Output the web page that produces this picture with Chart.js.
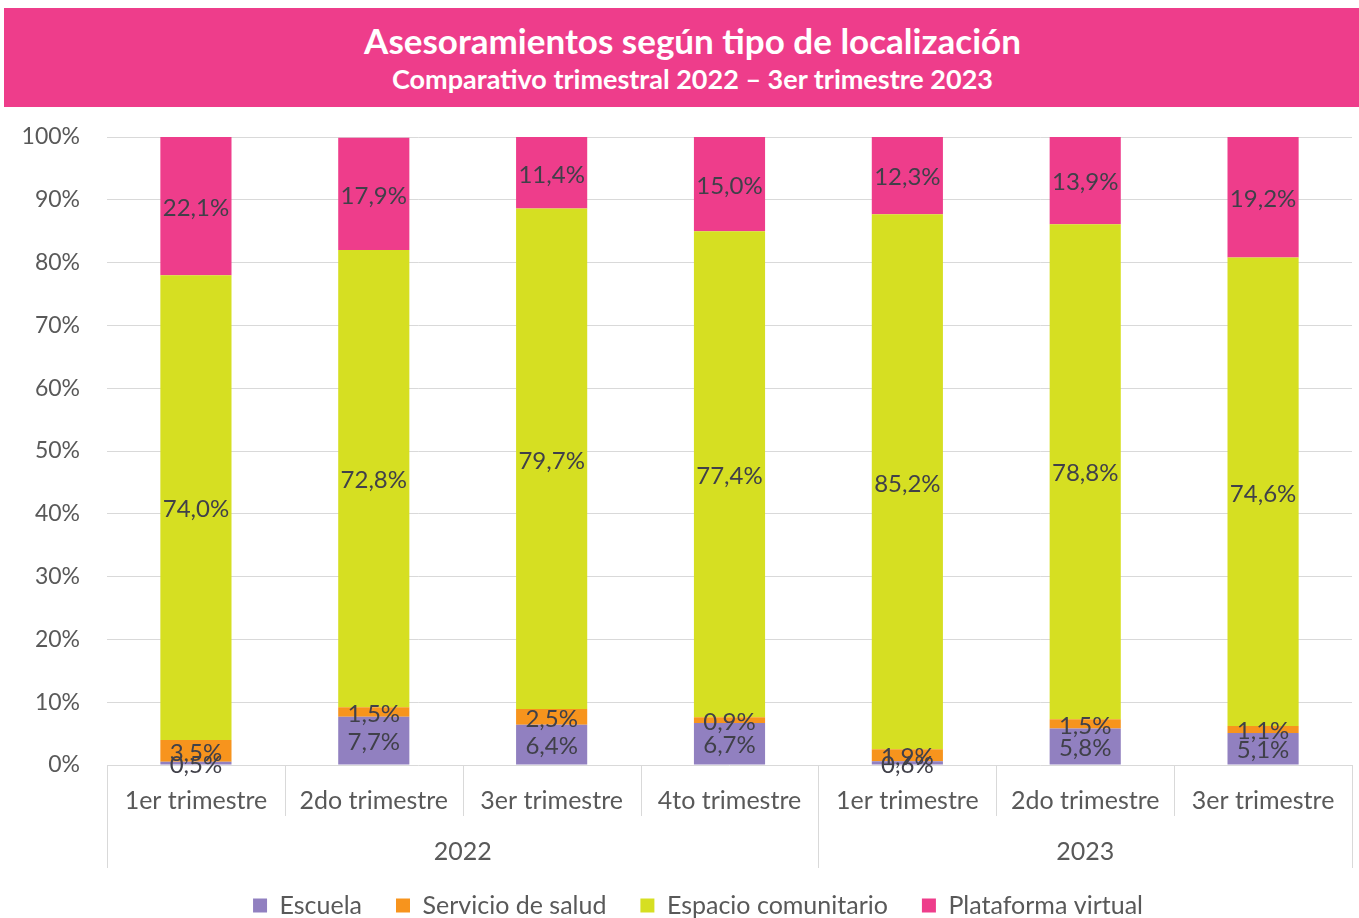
<!DOCTYPE html>
<html>
<head>
<meta charset="utf-8">
<script src="https://cdn.jsdelivr.net/npm/chart.js@4.4.1/dist/chart.umd.min.js"></script>
<style>
  html, body { margin: 0; padding: 0; background: #fff; }
  body { width: 1359px; height: 918px; position: relative; overflow: hidden; font-family: Lato, sans-serif; }
  #header {
    position: absolute; left: 4px; top: 8px; width: 1355px; height: 99px;
    background: #ee3d8b; color: #fff; text-align: center; font-weight: bold;
  }
  #header .t1 { position: absolute; left: 22px; right: 0; top: 14px; font-size: 35px; line-height: 36px; }
  #header .t2 { position: absolute; left: 22px; right: 0; top: 56px; font-size: 27px; line-height: 30px; }
  #wrap { position: absolute; left: 0; top: 0; width: 1359px; height: 928px; }
</style>
</head>
<body>
<div id="wrap"><canvas id="chart"></canvas></div>
<div id="header">
  <div class="t1">Asesoramientos según tipo de localización</div>
  <div class="t2">Comparativo trimestral 2022 – 3er trimestre 2023</div>
</div>
<script>
const quarters = ["1er trimestre", "2do trimestre", "3er trimestre", "4to trimestre", "1er trimestre", "2do trimestre", "3er trimestre"];
const years = ["2022", "2023"];
const yearSpans = [4, 3];

const escuela = [0.5, 7.7, 6.4, 6.7, 0.6, 5.8, 5.1];
const salud = [3.5, 1.5, 2.5, 0.9, 1.9, 1.5, 1.1];
const comunitario = [74.0, 72.8, 79.7, 77.4, 85.2, 78.8, 74.6];
const virtual = [22.1, 17.9, 11.4, 15.0, 12.3, 13.9, 19.2];

const gridColor = "#d9d9d9";
const textGrey = "#595959";

// etiquetas de datos centradas en cada segmento
const labelPlugin = {
  id: "segLabels",
  afterDatasetsDraw(chart) {
    const ctx = chart.ctx;
    ctx.save();
    ctx.font = "24px Lato";
    ctx.fillStyle = "#404049";
    ctx.textAlign = "center";
    ctx.textBaseline = "middle";
    chart.data.datasets.forEach((ds, di) => {
      chart.getDatasetMeta(di).data.forEach((bar, i) => {
        const v = ds.data[i];
        const y = (bar.y + bar.base) / 2 + 2;
        ctx.fillText(v.toFixed(1).replace(".", ",") + "%", bar.x, y);
      });
    });
    ctx.restore();
  }
};

// separadores y etiquetas de año bajo el eje
const groupPlugin = {
  id: "groups",
  afterLayout(chart) {
    // leyenda algo desplazada a la derecha como en el original
    chart.legend.left += 22;
    chart.legend.right += 22;
  },
  afterDraw(chart) {
    const xs = chart.scales.x;
    const ctx = chart.ctx;
    const n = quarters.length;
    const w = (xs.right - xs.left) / n;
    const top = chart.chartArea.bottom;
    const bounds = [0];
    yearSpans.reduce((acc, s) => { bounds.push(acc + s); return acc + s; }, 0);
    ctx.save();
    ctx.strokeStyle = gridColor;
    ctx.lineWidth = 1;
    for (let i = 0; i <= n; i++) {
      const x = Math.round(xs.left + i * w) + 0.5;
      const len = bounds.includes(i) ? 103 : 51;
      ctx.beginPath();
      ctx.moveTo(x, top);
      ctx.lineTo(x, top + len);
      ctx.stroke();
    }
    ctx.font = "25px Lato";
    ctx.fillStyle = textGrey;
    ctx.textAlign = "center";
    ctx.textBaseline = "middle";
    years.forEach((yr, k) => {
      const cx = xs.left + ((bounds[k] + bounds[k + 1]) / 2) * w;
      ctx.fillText(yr, cx, top + 87);
    });
    ctx.restore();
  }
};

new Chart(document.getElementById("chart"), {
  type: "bar",
  data: {
    labels: quarters,
    datasets: [
      { label: "Escuela", data: escuela, backgroundColor: "#9180c0" },
      { label: "Servicio de salud", data: salud, backgroundColor: "#f7941d" },
      { label: "Espacio comunitario", data: comunitario, backgroundColor: "#d6df22" },
      { label: "Plataforma virtual", data: virtual, backgroundColor: "#ee3d8b" }
    ]
  },
  options: {
    responsive: true,
    maintainAspectRatio: false,
    animation: false,
    datasets: { bar: { barPercentage: 0.4, categoryPercentage: 1.0 } },
    layout: { padding: { top: 137, bottom: 0, left: 0, right: 7 } },
    scales: {
      x: {
        stacked: true,
        grid: { display: false },
        border: { display: false },
        ticks: { font: { family: "Lato", size: 25 }, color: textGrey, padding: 13, maxRotation: 0 },
        afterFit(scale) { scale.height = 94; }
      },
      y: {
        stacked: true,
        min: 0,
        max: 100,
        grid: { color: gridColor, drawTicks: false },
        border: { display: false },
        ticks: {
          stepSize: 10,
          padding: 27,
          font: { family: "Lato", size: 23 },
          color: textGrey,
          callback: (v) => v + "%"
        },
        afterFit(scale) { scale.width = 107; }
      }
    },
    plugins: {
      legend: {
        position: "bottom",
        labels: {
          boxWidth: 14,
          boxHeight: 14,
          padding: 34,
          color: textGrey,
          font: { family: "Lato", size: 25 }
        }
      },
      tooltip: { enabled: false }
    }
  },
  plugins: [labelPlugin, groupPlugin]
});
</script>
</body>
</html>
